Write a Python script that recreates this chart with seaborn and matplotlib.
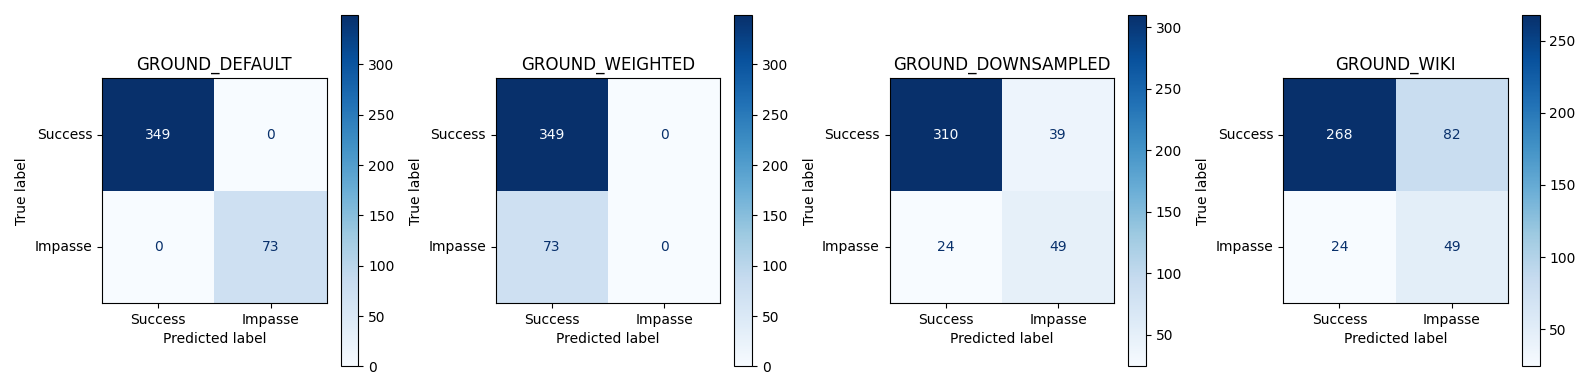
import numpy as np
import matplotlib
matplotlib.use("Agg")
import matplotlib.pyplot as plt
import seaborn as sns

class_labels = ["Success", "Impasse"]
titles = ["GROUND_DEFAULT", "GROUND_WEIGHTED", "GROUND_DOWNSAMPLED", "GROUND_WIKI"]
cm_default = [[349, 0], [0, 73]]
cm_weighted = [[349, 0], [73, 0]]
cm_downsampled = [[310, 39], [24, 49]]
cm_wiki = [[268, 82], [24, 49]]
matrices = [cm_default, cm_weighted, cm_downsampled, cm_wiki]

cmap = plt.get_cmap("Blues")

fig, axes = plt.subplots(1, 4, figsize=(15.9, 3.9), dpi=100)
for ax, title, cm in zip(axes, titles, matrices):
    cm = np.array(cm)
    sns.heatmap(cm, ax=ax, cmap="Blues", annot=True, fmt="d", square=True,
                cbar=True, xticklabels=class_labels, yticklabels=class_labels,
                vmin=cm.min(), vmax=cm.max(), annot_kws={"fontsize": 10})
    # sklearn style text colours
    thresh = (cm.max() + cm.min()) / 2.0
    for t in ax.texts:
        v = int(t.get_text())
        t.set_color(cmap(1.0) if v < thresh else cmap(0.0))
    for s in ax.spines.values():
        s.set_visible(True)
        s.set_linewidth(0.8)
    ax.tick_params(length=3.5, width=0.8)
    ax.set_yticklabels(class_labels, rotation=0, va="center")
    ax.set_xticklabels(class_labels, rotation=0)
    ax.set_title(title, fontsize=12)
    ax.set_xlabel("Predicted label")
    ax.set_ylabel("True label")
    cb = ax.collections[0].colorbar
    cb.outline.set_visible(True)
    cb.outline.set_linewidth(0.8)
    cb.ax.tick_params(length=3.5, width=0.8)

plt.tight_layout()
plt.savefig("out.png", dpi=100)
